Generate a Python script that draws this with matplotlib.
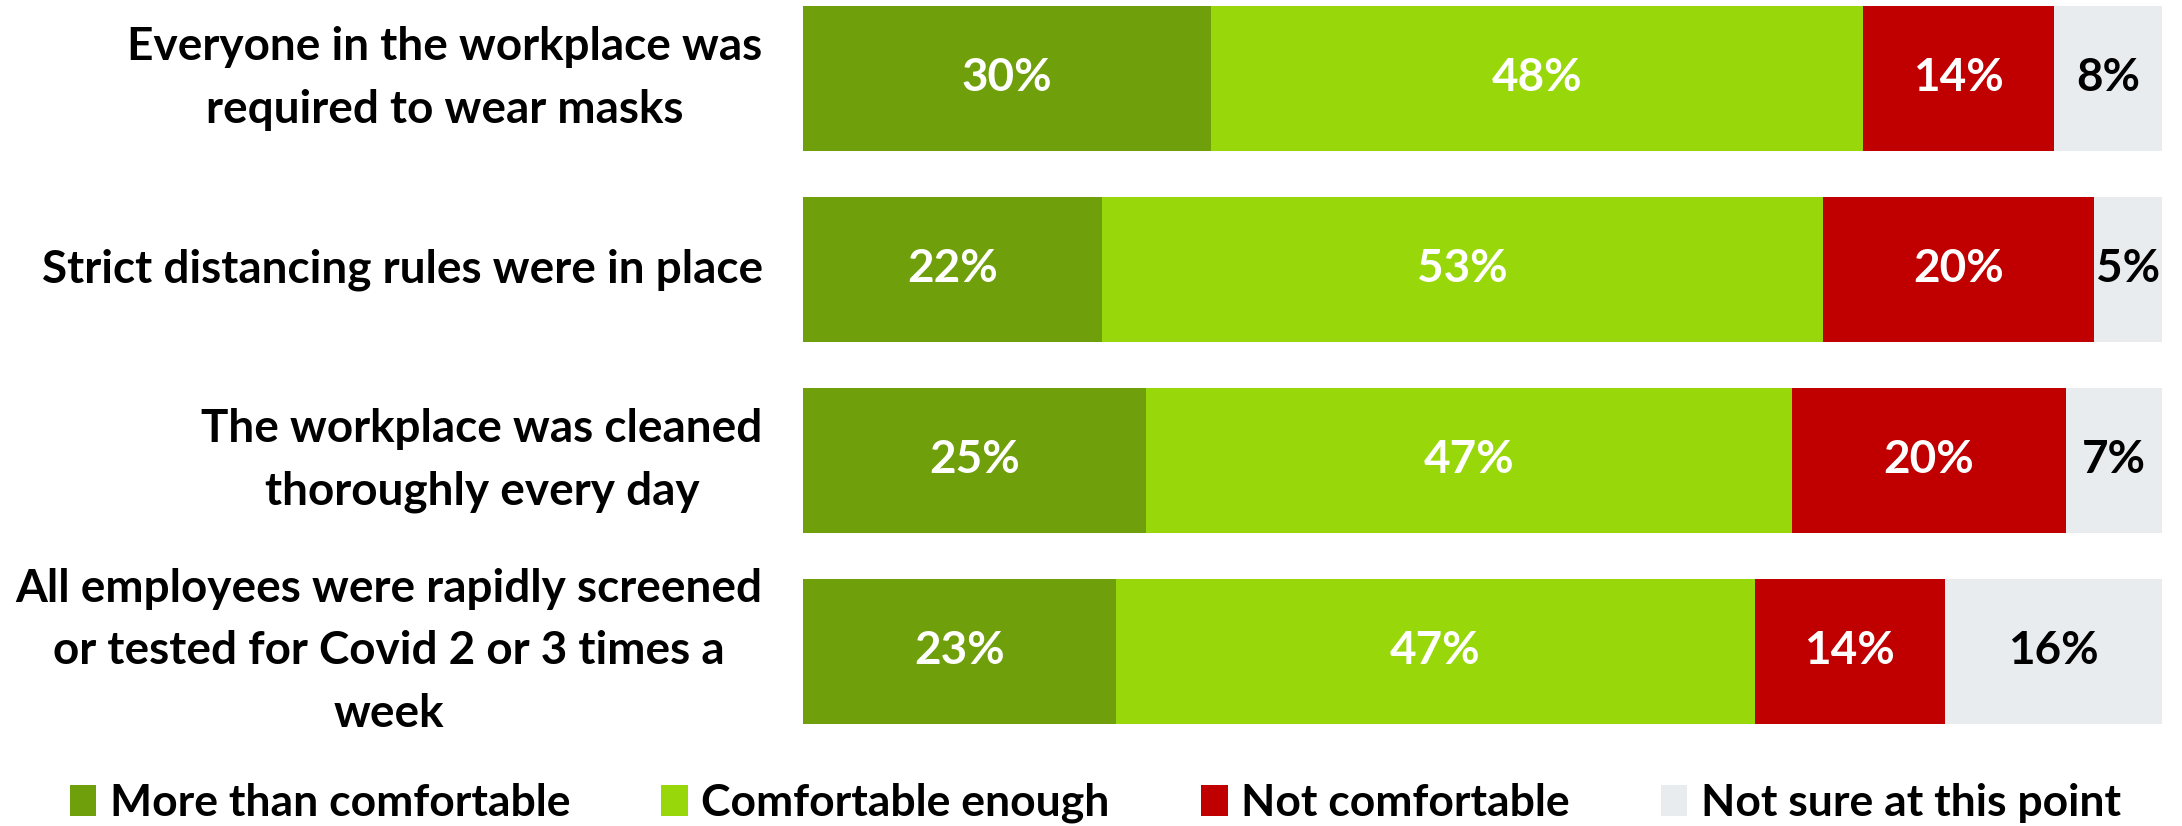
import matplotlib.pyplot as plt
import numpy as np

plt.rcParams["font.family"] = ["Lato", "DejaVu Sans"]

questions = [
    "Everyone in the workplace was\nrequired to wear masks",
    "Strict distancing rules were in place",
    "The workplace was cleaned\nthoroughly every day",
    "All employees were rapidly screened\nor tested for Covid 2 or 3 times a\nweek",
]
answers = ["More than comfortable", "Comfortable enough", "Not comfortable", "Not sure at this point"]
more_than = [30, 22, 25, 23]
enough = [48, 53, 47, 47]
not_comf = [14, 20, 20, 14]
not_sure = [8, 5, 7, 16]

colors = ["#6f9f0a", "#98d80b", "#c00000", "#e9ecee"]
text_colors = ["white", "white", "white", "black"]

data = np.array([more_than, enough, not_comf, not_sure], dtype=float)
# rounded values don't always add to 100, bars are drawn full width
widths = data / data.sum(axis=0) * 100

fig = plt.figure(figsize=(21.82, 8.26), dpi=100)
ax = fig.add_axes([0.368, 0.1235, 0.623, 0.8695])

y = np.arange(len(questions))
left = np.zeros(len(questions))
for i in range(len(answers)):
    bars = ax.barh(y, widths[i], left=left, height=0.76, color=colors[i],
                   label=answers[i], linewidth=0)
    for j, b in enumerate(bars):
        ax.text(left[j] + widths[i][j] / 2, y[j], f"{int(data[i][j])}%",
                ha="center", va="center", fontsize=33, fontweight="bold",
                color=text_colors[i])
    left += widths[i]

ax.set_xlim(0, 100)
ax.set_ylim(3.38, -0.38)
ax.set_yticks(y)
ax.set_yticklabels(questions, fontsize=33, fontweight="bold", va="center",
                   multialignment="center", linespacing=1.6)
ax.tick_params(axis="y", length=0, pad=29)
ax.set_xticks([])
for s in ax.spines.values():
    s.set_visible(False)

fig.legend(loc="center left", bbox_to_anchor=(0.032, 0.028), ncol=4, frameon=False,
           prop={"size": 32, "weight": "bold"}, handlelength=0.6, handleheight=0.7,
           handletextpad=0.3, columnspacing=2.05, borderaxespad=0, borderpad=0)

fig.savefig("out.png", dpi=100)
